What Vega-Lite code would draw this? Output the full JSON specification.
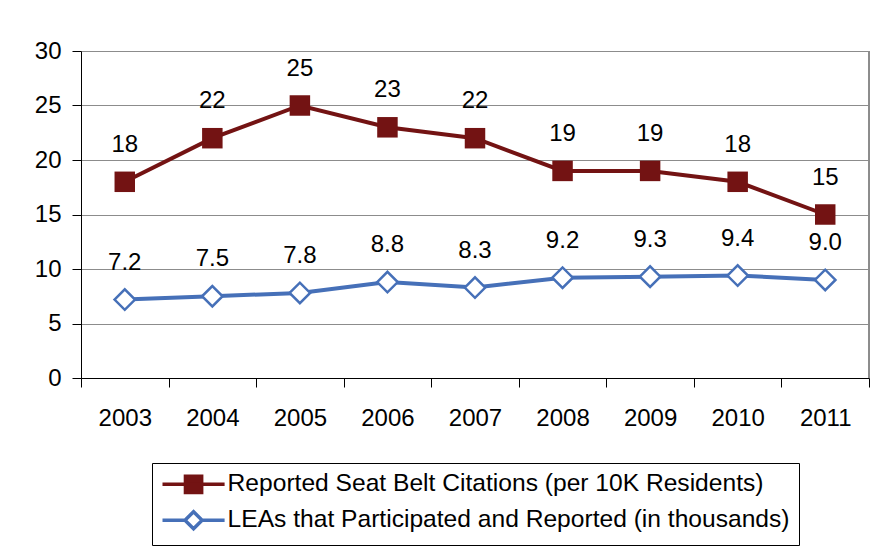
{
  "$schema": "https://vega.github.io/schema/vega-lite/v6.json",
  "autosize": {"type": "none"},
  "width": 788,
  "height": 327,
  "padding": {"left": 81, "top": 51, "right": 7, "bottom": 172},
  "background": "white",
  "config": {
    "font": "Liberation Sans",
    "view": {"stroke": null},
    "axis": {"labelFont": "Liberation Sans", "labelFontSize": 24, "labelColor": "black", "domainColor": "black", "tickColor": "black", "tickSize": 9, "title": null}
  },
  "data": {
    "values": [
      {"year": "2003", "series": "Reported Seat Belt Citations (per 10K Residents)", "value": 18},
      {"year": "2004", "series": "Reported Seat Belt Citations (per 10K Residents)", "value": 22},
      {"year": "2005", "series": "Reported Seat Belt Citations (per 10K Residents)", "value": 25},
      {"year": "2006", "series": "Reported Seat Belt Citations (per 10K Residents)", "value": 23},
      {"year": "2007", "series": "Reported Seat Belt Citations (per 10K Residents)", "value": 22},
      {"year": "2008", "series": "Reported Seat Belt Citations (per 10K Residents)", "value": 19},
      {"year": "2009", "series": "Reported Seat Belt Citations (per 10K Residents)", "value": 19},
      {"year": "2010", "series": "Reported Seat Belt Citations (per 10K Residents)", "value": 18},
      {"year": "2011", "series": "Reported Seat Belt Citations (per 10K Residents)", "value": 15},
      {"year": "2003", "series": "LEAs that Participated and Reported (in thousands)", "value": 7.2},
      {"year": "2004", "series": "LEAs that Participated and Reported (in thousands)", "value": 7.5},
      {"year": "2005", "series": "LEAs that Participated and Reported (in thousands)", "value": 7.8},
      {"year": "2006", "series": "LEAs that Participated and Reported (in thousands)", "value": 8.8},
      {"year": "2007", "series": "LEAs that Participated and Reported (in thousands)", "value": 8.3},
      {"year": "2008", "series": "LEAs that Participated and Reported (in thousands)", "value": 9.2},
      {"year": "2009", "series": "LEAs that Participated and Reported (in thousands)", "value": 9.3},
      {"year": "2010", "series": "LEAs that Participated and Reported (in thousands)", "value": 9.4},
      {"year": "2011", "series": "LEAs that Participated and Reported (in thousands)", "value": 9.0}
    ]
  },
  "encoding": {
    "x": {"field": "year", "type": "ordinal", "scale": {"type": "band", "paddingInner": 0, "paddingOuter": 0},
      "axis": {"labelAngle": 0, "tickBand": "extent", "labelPadding": 19, "grid": false, "domainWidth": 1}},
    "y": {"field": "value", "type": "quantitative", "scale": {"domain": [0, 30], "nice": false},
      "axis": {"values": [0, 5, 10, 15, 20, 25, 30], "grid": true, "gridColor": "#8c8c8c", "gridWidth": 1, "labelPadding": 11}}
  },
  "layer": [
    {
      "mark": {"type": "rule", "color": "#8c8c8c", "strokeWidth": 1},
      "encoding": {"x": {"datum": "2011", "type": "ordinal", "bandPosition": 1}, "y": null}
    },
    {
      "mark": {"type": "line", "strokeWidth": 4},
      "encoding": {
        "color": {"field": "series", "type": "nominal",
          "scale": {"domain": ["Reported Seat Belt Citations (per 10K Residents)", "LEAs that Participated and Reported (in thousands)"], "range": ["#731313", "#4670B8"]},
          "legend": {
            "title": null, "orient": "none", "legendX": 71, "legendY": 412,
            "direction": "vertical",
            "strokeColor": "black", "fillColor": "white", "padding": 9,
            "labelFont": "Liberation Sans", "labelFontSize": 24.6, "labelColor": "black", "labelLimit": 1000,
            "labelOffset": 42, "rowPadding": 4, "symbolSize": 324, "symbolStrokeWidth": 3.5,
            "encode": {
              "symbols": {
                "update": {
                  "shape": {"signal": "datum.value === 'Reported Seat Belt Citations (per 10K Residents)' ? 'M-1.2,0H5.7M1.35,-0.9H3.15V0.9H1.35Z' : 'M-1.2,0H1.3M3.2,0H5.7M1.3,0L2.25,-0.95L3.2,0L2.25,0.95Z'"},
                  "fill": {"signal": "datum.value === 'Reported Seat Belt Citations (per 10K Residents)' ? '#731313' : 'white'"},
                  "stroke": {"signal": "datum.value === 'Reported Seat Belt Citations (per 10K Residents)' ? '#731313' : '#4670B8'"},
                  "strokeWidth": {"value": 3.5},
                  "size": {"value": 324},
                  "opacity": {"value": 1},
                  "fillOpacity": {"value": 1}
                }
              }
            }
          }
        }
      }
    },
    {
      "transform": [{"filter": "datum.series === 'Reported Seat Belt Citations (per 10K Residents)'"}],
      "mark": {"type": "point", "shape": "square", "filled": true, "size": 420, "color": "#731313", "opacity": 1}
    },
    {
      "transform": [{"filter": "datum.series === 'LEAs that Participated and Reported (in thousands)'"}],
      "mark": {"type": "point", "shape": "diamond", "filled": false, "fill": "white", "fillOpacity": 1, "size": 420, "stroke": "#4670B8", "strokeWidth": 2.5, "opacity": 1}
    },
    {
      "transform": [{"filter": "datum.series === 'Reported Seat Belt Citations (per 10K Residents)'"}],
      "mark": {"type": "text", "dy": -37, "fontSize": 24, "font": "Liberation Sans", "color": "black"},
      "encoding": {"text": {"field": "value", "type": "quantitative", "format": ".0f"}}
    },
    {
      "transform": [{"filter": "datum.series === 'LEAs that Participated and Reported (in thousands)'"}],
      "mark": {"type": "text", "dy": -37, "fontSize": 24, "font": "Liberation Sans", "color": "black"},
      "encoding": {"text": {"field": "value", "type": "quantitative", "format": ".1f"}}
    }
  ]
}
